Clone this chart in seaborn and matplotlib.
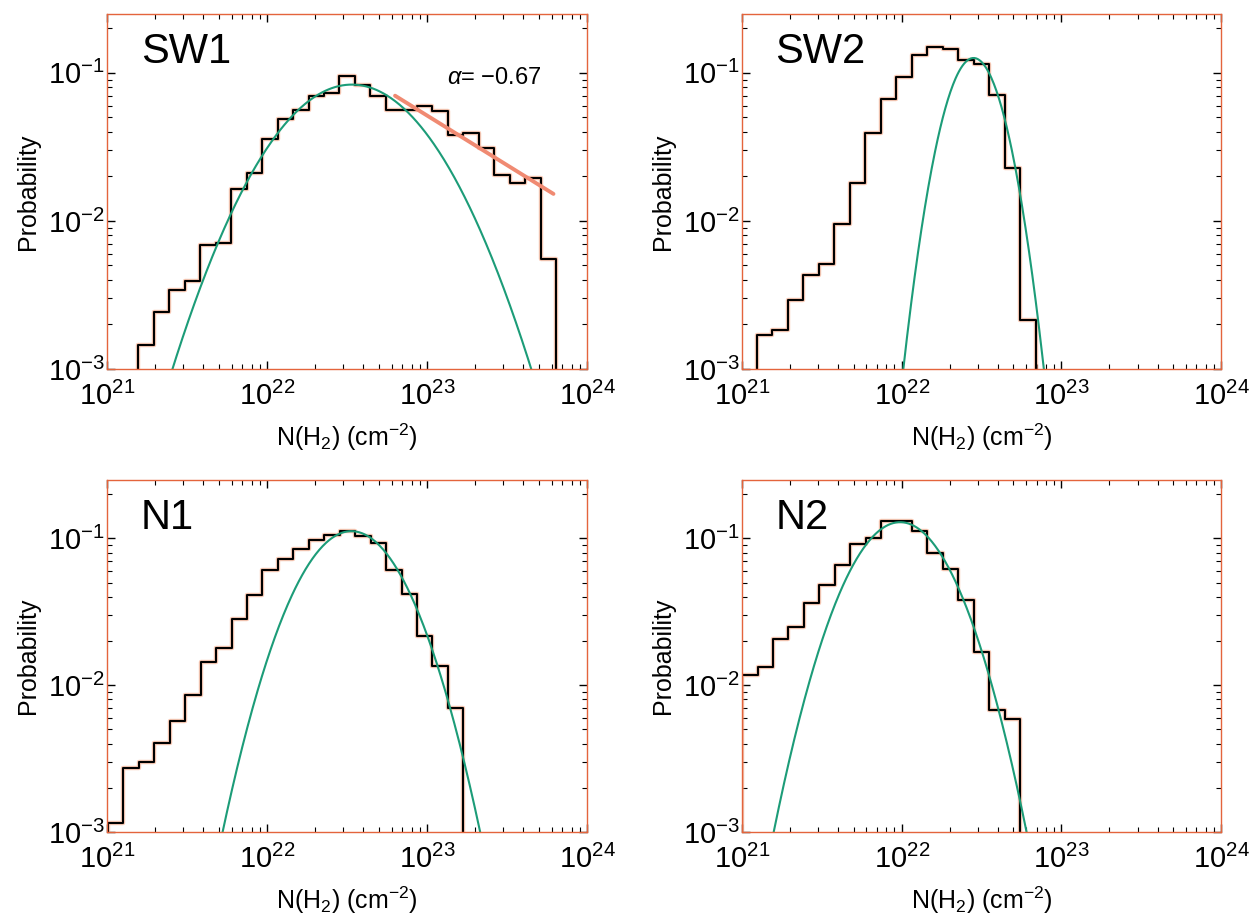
import numpy as np
import matplotlib
matplotlib.use("Agg")
import matplotlib.pyplot as plt
import seaborn as sns

# histogram bins: log10 N(H2) of first and last bin edge, probability per bin
sw1_lo, sw1_hi = 21.196, 23.806
sw1_prob = [0.00146, 0.00242, 0.00344, 0.00393, 0.00686, 0.00711, 0.0164, 0.0210,
            0.0357, 0.0488, 0.0564, 0.0701, 0.0732, 0.0949, 0.0833, 0.0701,
            0.0564, 0.0564, 0.0601, 0.0556, 0.0382, 0.0392, 0.0313, 0.0205,
            0.0180, 0.0194, 0.00557]

sw2_lo, sw2_hi = 21.092, 22.839
sw2_prob = [0.00169, 0.00184, 0.00293, 0.00432, 0.00508, 0.00951, 0.0179, 0.0394,
            0.0661, 0.0935, 0.131, 0.150, 0.145, 0.122, 0.115, 0.0714, 0.0229,
            0.00215]

n1_lo, n1_hi = 21.005, 23.227
n1_prob = [0.00116, 0.00272, 0.00301, 0.00404, 0.00573, 0.00857, 0.0144, 0.0178,
           0.0283, 0.0410, 0.0607, 0.0723, 0.0844, 0.0975, 0.1047, 0.112, 0.1037,
           0.0935, 0.0607, 0.0421, 0.0215, 0.0136, 0.00697]

n2_lo, n2_hi = 21.0, 22.741
n2_prob = [0.0118, 0.0134, 0.0208, 0.0249, 0.0362, 0.0481, 0.0662, 0.0916, 0.100,
           0.1306, 0.1306, 0.112, 0.0793, 0.0620, 0.0379, 0.0169, 0.00679, 0.00589]

names = ["SW1", "SW2", "N1", "N2"]

# log-normal fits (peak probability, centre and width in log10 N)
fit_peak = [0.0833, 0.126, 0.112, 0.129]
fit_mu = [22.53, 22.45, 22.527, 21.99]
fit_w = [0.377, 0.1415, 0.262, 0.254]

# power-law tail of SW1
pl_alpha = -0.67
pl_range = [22.80, 23.79]
pl_p0 = 0.0701

sns.set_theme(style="ticks")
plt.rcParams["font.family"] = ["Liberation Sans", "DejaVu Sans"]
plt.rcParams["mathtext.fontset"] = "custom"
plt.rcParams["mathtext.rm"] = "Liberation Sans"
plt.rcParams["mathtext.it"] = "Liberation Sans:italic"
plt.rcParams["mathtext.default"] = "regular"
plt.rcParams["text.color"] = "black"
plt.rcParams["axes.labelcolor"] = "black"
plt.rcParams["xtick.labelcolor"] = "black"
plt.rcParams["ytick.labelcolor"] = "black"

fig = plt.figure(figsize=(12.52, 9.16), dpi=100)
boxes = [[0.0855, 0.5972, 0.3834, 0.3876], [0.5927, 0.5972, 0.3826, 0.3876],
         [0.0855, 0.0917, 0.3834, 0.3843], [0.5927, 0.0917, 0.3826, 0.3843]]
hists = [(sw1_lo, sw1_hi, sw1_prob), (sw2_lo, sw2_hi, sw2_prob),
         (n1_lo, n1_hi, n1_prob), (n2_lo, n2_hi, n2_prob)]

floor = 1e-5
for i, (lo, hi, prob) in enumerate(hists):
    ax = fig.add_axes(boxes[i])
    ax.set_xscale("log")
    ax.set_yscale("log")

    edges = np.logspace(lo, hi, len(prob) + 1)
    xs = np.concatenate([[edges[0]], edges])
    ys = np.concatenate([[floor], prob, [floor]])
    sns.lineplot(x=xs, y=ys, ax=ax, estimator=None, sort=False,
                 drawstyle="steps-post", color="#f4a585", lw=3.2, alpha=0.6)
    sns.lineplot(x=xs, y=ys, ax=ax, estimator=None, sort=False,
                 drawstyle="steps-post", color="black", lw=1.5)

    lx = np.linspace(20.9, 24.1, 600)
    fit = fit_peak[i] * np.exp(-(lx - fit_mu[i]) ** 2 / (2 * fit_w[i] ** 2))
    sns.lineplot(x=10 ** lx, y=fit, ax=ax, estimator=None, sort=False,
                 color="#1c9c78", lw=1.5)

    if i == 0:
        px = np.linspace(pl_range[0], pl_range[1], 20)
        py = pl_p0 * 10 ** (pl_alpha * (px - pl_range[0]))
        sns.lineplot(x=10 ** px, y=py, ax=ax, estimator=None, sort=False,
                     color="#f08a72", lw=2.8)
        ax.text(0.806, 0.82, r"$\it{\alpha}$= $-$0.67", transform=ax.transAxes,
                ha="center", va="center", fontsize=17)

    ax.text(0.07, 0.893, names[i], transform=ax.transAxes, ha="left",
            va="center", fontsize=30)

    ax.set_xlim(1e21, 1e24)
    ax.set_ylim(1e-3, 0.25)
    ax.set_xlabel(r"N(H$_2$) (cm$^{-2}$)", fontsize=18, labelpad=8)
    ax.set_ylabel("Probability", fontsize=18, labelpad=6)
    ax.tick_params(which="both", direction="in", top=True, right=True,
                   color="black")
    ax.tick_params(axis="x", labelsize=21, pad=9)
    ax.tick_params(axis="y", labelsize=21, pad=1.5)
    ax.tick_params(which="major", length=6, width=1)
    ax.tick_params(which="minor", length=3.5, width=0.8)
    for sp in ax.spines.values():
        sp.set_color("#e4643c")
        sp.set_linewidth(1.0)

fig.savefig("out.png", dpi=100)
